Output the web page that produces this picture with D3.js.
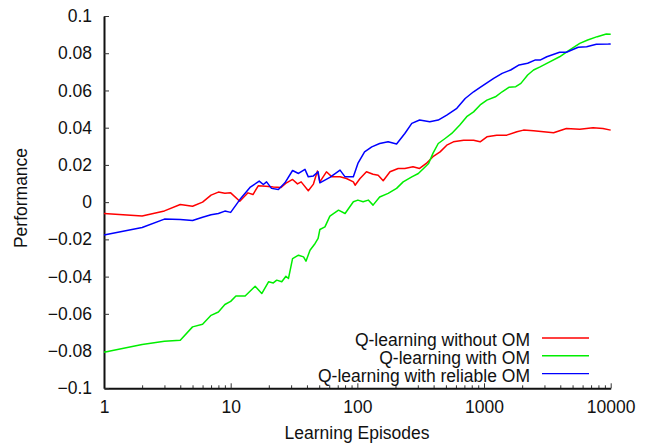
<!DOCTYPE html>
<html>
<head>
<meta charset="utf-8">
<script src="https://cdn.jsdelivr.net/npm/d3@7"></script>
<style>
  body { margin: 0; background: #fff; }
  svg text { font-family: "Liberation Sans", Arial, sans-serif; fill: #111; }
</style>
</head>
<body>
<div id="viz"></div>
<script>
// episodes / performance pairs
const withoutOM = [
  [1,-0.0061],[2,-0.0074],[3,-0.0047],[4,-0.0013],[5,-0.0022],[6,0.0],[7,0.0038],[8,0.0054],[9,0.0048],[10,0.0050],
  [11.8,0.0005],[13.7,0.0050],[15,0.0041],[16.5,0.0088],[19,0.0086],[21.7,0.0082],[25,0.0079],[27.6,0.0104],[30.8,0.0122],
  [33.7,0.0098],[36,0.0109],[41,0.0061],[45,0.0097],[48.4,0.0167],[50.6,0.0109],[57,0.0163],[63,0.0136],[73,0.0136],
  [82,0.0127],[93,0.0109],[96,0.0091],[105,0.0127],[118,0.0163],[133,0.015],[146,0.0145],[160,0.0115],[181,0.0163],
  [210,0.0181],[237,0.0181],[275,0.019],[310,0.0181],[350,0.0208],[395,0.0244],[450,0.027],[508,0.0306],[573,0.0324],
  [690,0.0333],[827,0.0333],[932,0.0324],[1054,0.0351],[1260,0.036],[1513,0.036],[1817,0.0378],[2050,0.0387],
  [2460,0.0383],[2950,0.0378],[3540,0.0373],[4470,0.0396],[5700,0.0391],[7250,0.04],[8680,0.0396],[10000,0.0387]
];

const withOM = [
  [1,-0.0806],[2,-0.0765],[3,-0.0747],[4,-0.0742],[5,-0.067],[6,-0.0656],[7,-0.0608],[8,-0.059],[9,-0.055],[10,-0.0533],
  [11,-0.0504],[13,-0.0504],[15.6,-0.0452],[17.6,-0.0491],[19.9,-0.0428],[21.7,-0.0434],[23.1,-0.0419],[25.3,-0.0428],
  [27.3,-0.0398],[28.6,-0.041],[30.8,-0.0303],[34.3,-0.0285],[37.6,-0.0294],[39.3,-0.0317],[42.3,-0.0258],[46.4,-0.0222],
  [49,-0.0195],[50.6,-0.0147],[55.5,-0.0133],[60.7,-0.0075],[71,-0.0043],[80,-0.0061],[93,0.0002],[101,0.0011],
  [111,0.0002],[122,0.0011],[133,-0.0016],[150,0.0028],[175,0.0047],[204,0.0074],[230,0.0109],[269,0.0136],[303,0.0154],
  [333,0.0181],[365,0.0208],[395,0.0262],[435,0.0315],[493,0.0342],[556,0.0369],[644,0.0414],[730,0.0459],[827,0.0485],
  [932,0.0522],[1054,0.0548],[1230,0.0566],[1390,0.0593],[1570,0.0617],[1780,0.062],[1955,0.0638],[2210,0.0683],
  [2460,0.071],[2770,0.0727],[3300,0.0754],[3950,0.0781],[4720,0.0817],[5700,0.0853],[6580,0.0871],[7830,0.0889],
  [9230,0.0903],[10000,0.0902]
];

const reliableOM = [
  [1,-0.0176],[2,-0.0136],[3,-0.0091],[4,-0.0093],[5,-0.0099],[6,-0.0081],[7,-0.0068],[8,-0.0061],[9,-0.0048],[10,-0.0055],
  [11,-0.0016],[12,0.002],[14.2,0.0079],[16.8,0.0113],[18.1,0.0095],[19.2,0.0109],[21,0.0074],[23.8,0.0068],[26.8,0.0104],
  [30.8,0.017],[34.3,0.0154],[38.6,0.0176],[41,0.0136],[45,0.0141],[49,0.0163],[50.6,0.0104],[60.7,0.0133],[73,0.0172],
  [80,0.0136],[93,0.0136],[101,0.0208],[114,0.027],[130,0.0297],[150,0.0315],[175,0.0324],[204,0.0312],[237,0.0369],
  [269,0.0423],[310,0.0441],[373,0.0432],[435,0.0441],[508,0.0468],[610,0.0504],[710,0.0557],[827,0.0593],[932,0.0617],
  [1054,0.0641],[1192,0.0665],[1390,0.0692],[1623,0.071],[1892,0.0737],[2210,0.0746],[2522,0.0763],[2770,0.0763],
  [3130,0.0781],[3950,0.0805],[4470,0.0805],[5540,0.0832],[6460,0.0835],[7700,0.0848],[9600,0.0849],[10000,0.0850]
];

const seriesNames = ["Q-learning without OM", "Q-learning with OM", "Q-learning with reliable OM"];
const seriesColors = ["#ff0000", "#00ee00", "#0000ff"];
const yTicks = [-0.1, -0.08, -0.06, -0.04, -0.02, 0, 0.02, 0.04, 0.06, 0.08, 0.1];
const xMajor = [1, 10, 100, 1000, 10000];

const W = 653, H = 443;
const FS = 17.5;
const svg = d3.select("#viz").append("svg").attr("width", W).attr("height", H);

const x = d3.scaleLog().domain([1, 10000]).range([104, 610.7]);
const y = d3.scaleLinear().domain([-0.1, 0.1]).range([388.3, 16]);

// minor ticks on the log axis
const xMinor = [];
for (let d = 1; d < 10000; d *= 10) {
    for (let k = 2; k <= 9; k++) xMinor.push(d * k);
}

svg.append("g")
    .attr("transform", `translate(0,${y(-0.1)})`)
    .call(d3.axisBottom(x).tickValues(xMinor).tickSize(-3).tickFormat(""))
    .call(g => g.select(".domain").remove())
    .selectAll("line").attr("stroke", "#333");

const xAxis = svg.append("g")
    .attr("transform", `translate(0,${y(-0.1)})`)
    .call(d3.axisBottom(x).tickValues(xMajor).tickSize(-5).tickSizeOuter(0)
        .tickPadding(12).tickFormat(d3.format("d")));
xAxis.select(".domain").attr("stroke", "#111").attr("stroke-width", 2);
xAxis.selectAll("line").attr("stroke", "#333");
xAxis.selectAll("text").attr("font-size", FS).attr("font-family", "Liberation Sans, Arial, sans-serif");

const yAxis = svg.append("g")
    .attr("transform", `translate(${x(1)},0)`)
    .call(d3.axisLeft(y).tickValues(yTicks).tickSize(-5).tickSizeOuter(0)
        .tickPadding(12).tickFormat(d => d === 0 ? "0" : d3.format("")(+d.toFixed(2))));
yAxis.select(".domain").attr("stroke", "#111").attr("stroke-width", 2);
yAxis.selectAll("line").attr("stroke", "#333");
yAxis.selectAll("text").attr("font-size", FS).attr("font-family", "Liberation Sans, Arial, sans-serif");

// axis titles
svg.append("text")
    .attr("x", 357)
    .attr("y", 439)
    .attr("text-anchor", "middle")
    .attr("font-size", FS)
    .text("Learning Episodes");

svg.append("text")
    .attr("transform", "translate(27,198) rotate(-90)")
    .attr("text-anchor", "middle")
    .attr("font-size", FS)
    .text("Performance");

// curves
const line = d3.line()
    .x(d => x(d[0]))
    .y(d => y(d[1]));

[withoutOM, withOM, reliableOM].forEach((s, i) => {
    svg.append("path")
        .datum(s)
        .attr("fill", "none")
        .attr("stroke", seriesColors[i])
        .attr("stroke-width", 1.5)
        .attr("stroke-linejoin", "round")
        .attr("d", line);
});

// legend
const legend = svg.append("g");
seriesNames.forEach((name, i) => {
    const ly = 338 + i * 17.8;
    legend.append("text")
        .attr("x", 530)
        .attr("y", ly + 8)
        .attr("text-anchor", "end")
        .attr("font-size", FS)
        .text(name);
    legend.append("line")
        .attr("x1", 542)
        .attr("x2", 589)
        .attr("y1", ly)
        .attr("y2", ly)
        .attr("stroke", seriesColors[i])
        .attr("stroke-width", 1.4);
});
</script>
</body>
</html>
